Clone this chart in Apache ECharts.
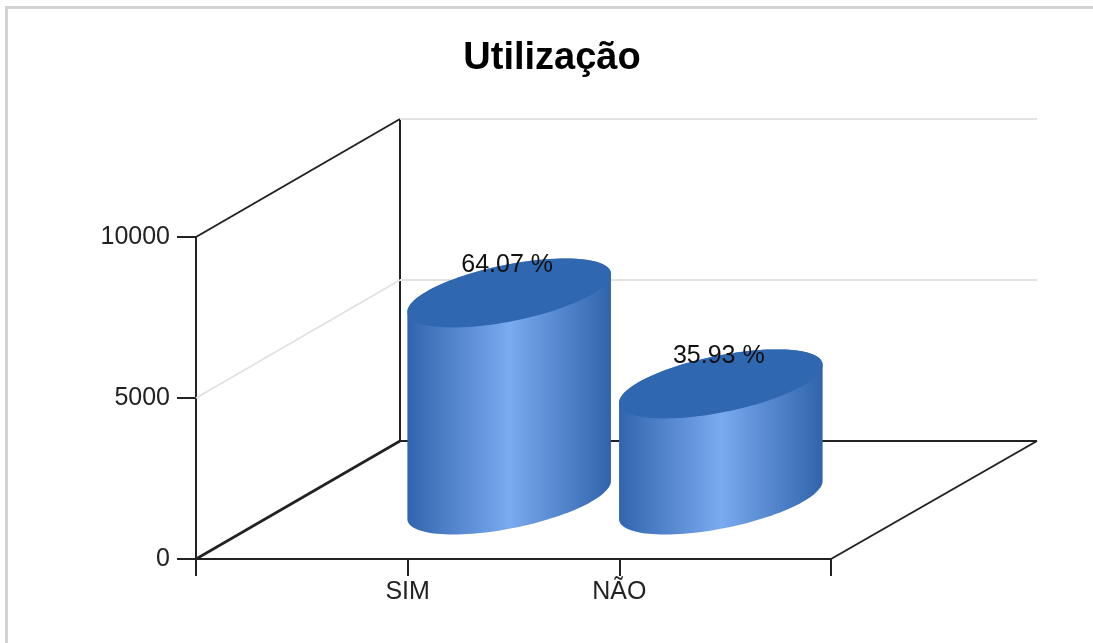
<!DOCTYPE html>
<html>
<head>
<meta charset="UTF-8">
<title>Utilização</title>
<script src="https://cdn.jsdelivr.net/npm/echarts@6/dist/echarts.min.js"></script>
<style>
    html, body { margin: 0; padding: 0; background: #fff; }
    #container { width: 1093px; height: 643px; }
</style>
</head>
<body>
<div id="container"></div>
<script>
// dados
const categories = ['', 'SIM', 'NÃO', ''];
const barPositions = [1, 2];
const barValues = [6430, 3606];
const barLabels = ['64.07 %', '35.93 %'];
const yTicks = [0, 5000, 10000];

// projecao da profundidade
const depthX = 204;
const depthY = 118;
const baseShift = 59;

// elipse do cilindro
const ellipseA = 85;
const ellipseB = 56;
const ellipseC = 34.5;

const FONT = '"Liberation Sans", Arial, sans-serif';
const AXIS_COLOR = '#222222';
const GRID_COLOR = '#e2e2e2';

function line(x1, y1, x2, y2, color, width) {
    return {
        type: 'line',
        shape: { x1: x1, y1: y1, x2: x2, y2: y2 },
        style: { stroke: color, lineWidth: width || 2 }
    };
}

// paredes e chao em falso 3D
function renderFrame(params, api) {
    const value = api.value(0);
    const left = api.coord([0, value]);
    const right = api.coord([3, value]);
    const sideColor = value === 5000 ? GRID_COLOR : AXIS_COLOR;
    const backColor = value === 0 ? AXIS_COLOR : GRID_COLOR;
    const children = [
        line(left[0], left[1], left[0] + depthX, left[1] - depthY, sideColor, value === 0 ? 2.6 : 2),
        line(left[0] + depthX, left[1] - depthY, right[0] + depthX + 2, left[1] - depthY, backColor)
    ];
    if (value === 0) {
        const top = api.coord([0, 10000]);
        children.push(line(left[0] + depthX, left[1] - depthY, top[0] + depthX, top[1] - depthY, AXIS_COLOR));
        children.push(line(right[0], right[1], right[0] + depthX + 2, right[1] - depthY, AXIS_COLOR));
    }
    return { type: 'group', silent: true, children: children };
}

function ellipsePoint(cx, cy, t) {
    return [
        cx + ellipseA * Math.cos(t) + ellipseB * Math.sin(t),
        cy - ellipseC * Math.sin(t)
    ];
}

function renderCylinder(params, api) {
    const tick = api.coord([api.value(0), 0]);
    const head = api.coord([api.value(0), api.value(1)]);
    const cx = tick[0] + depthX / 2 - 0.5;
    const bottomY = tick[1] - baseShift;
    const topY = head[1] - baseShift;
    const t0 = Math.atan2(ellipseB, ellipseA); // ponto mais a direita
    const steps = 60;

    const body = [];
    for (let i = 0; i <= steps; i++) {
        body.push(ellipsePoint(cx, bottomY, t0 - Math.PI * i / steps));
    }
    for (let i = 0; i <= steps; i++) {
        body.push(ellipsePoint(cx, topY, t0 - Math.PI - Math.PI * i / steps));
    }
    const lid = [];
    for (let i = 0; i < steps * 2; i++) {
        lid.push(ellipsePoint(cx, topY, Math.PI * i / steps));
    }

    return {
        type: 'group',
        children: [{
            type: 'polygon',
            shape: { points: body },
            style: {
                fill: {
                    type: 'linear', x: 0, y: 0, x2: 1, y2: 0,
                    colorStops: [
                        { offset: 0, color: '#3065ad' },
                        { offset: 0.5, color: '#7aaaf0' },
                        { offset: 1, color: '#2f64ab' }
                    ]
                }
            }
        }, {
            type: 'polygon',
            shape: { points: lid },
            style: { fill: '#2f67b1' }
        }, {
            type: 'text',
            x: cx - 2,
            y: topY - 28,
            style: {
                text: barLabels[params.dataIndex],
                fill: '#111111',
                font: '25px ' + FONT,
                align: 'center',
                verticalAlign: 'middle'
            }
        }]
    };
}

const myChart = echarts.init(document.getElementById('container'), null, { renderer: 'canvas' });
myChart.setOption({
    animation: false,
    backgroundColor: '#ffffff',
    title: {
        text: 'Utilização',
        left: 547,
        top: 35,
        textAlign: 'center',
        textStyle: { fontFamily: FONT, fontSize: 38, fontWeight: 'bold', color: '#000000' }
    },
    graphic: [
        { type: 'rect', shape: { x: 5, y: 6, width: 3, height: 637 }, style: { fill: '#d3d3d3' } },
        { type: 'rect', shape: { x: 5, y: 6, width: 1088, height: 3 }, style: { fill: '#d3d3d3' } }
    ],
    grid: { left: 196, right: 262, top: 237, bottom: 84 },
    xAxis: {
        type: 'category',
        data: categories,
        boundaryGap: false,
        axisLine: { onZero: false, lineStyle: { color: AXIS_COLOR, width: 2 } },
        axisTick: { alignWithLabel: true, length: 17, lineStyle: { color: AXIS_COLOR, width: 2 } },
        axisLabel: {
            interval: 0, margin: 21, color: '#222222', fontFamily: FONT, fontSize: 25,
            showMinLabel: true, showMaxLabel: true
        },
        splitLine: { show: false }
    },
    yAxis: {
        type: 'value',
        min: 0,
        max: 10000,
        interval: 5000,
        axisLine: { show: true, lineStyle: { color: AXIS_COLOR, width: 2 } },
        axisTick: { show: true, length: 19, lineStyle: { color: AXIS_COLOR, width: 2 } },
        axisLabel: {
            margin: 26, color: '#222222', fontFamily: FONT, fontSize: 25,
            formatter: function (value) { return String(value); }
        },
        splitLine: { show: false }
    },
    series: [{
        type: 'custom',
        name: 'grade',
        clip: false,
        silent: true,
        z: 1,
        renderItem: renderFrame,
        data: yTicks.map(function (v) { return [v]; }),
        encode: { y: 0 }
    }, {
        type: 'custom',
        name: 'Utilização',
        clip: false,
        z: 3,
        renderItem: renderCylinder,
        data: barPositions.map(function (p, i) { return [p, barValues[i]]; }),
        encode: { x: 0, y: 1 }
    }]
});
</script>
</body>
</html>
